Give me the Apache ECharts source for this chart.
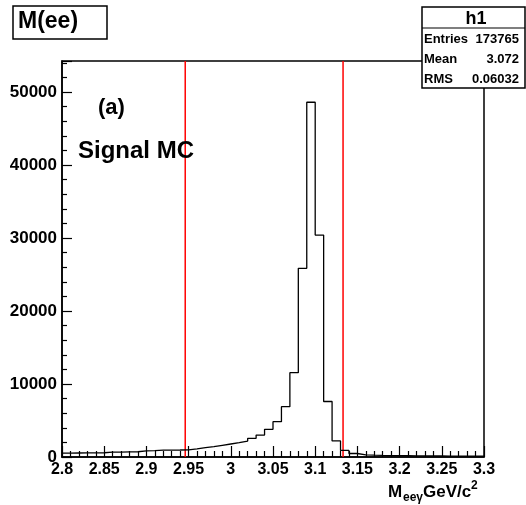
<!DOCTYPE html>
<html>
<head>
<meta charset="utf-8">
<script src="https://cdn.jsdelivr.net/npm/echarts@6/dist/echarts.min.js"></script>
<style>
html,body{margin:0;padding:0;background:#fff;}
#chart{width:526px;height:505px;}
</style>
</head>
<body>
<div id="chart"></div>
<script>
// Histogram h1: 50 bins of width 0.01 from 2.80 to 3.30 (left edges)
const binEdges = [2.80,2.81,2.82,2.83,2.84,2.85,2.86,2.87,2.88,2.89,
                  2.90,2.91,2.92,2.93,2.94,2.95,2.96,2.97,2.98,2.99,
                  3.00,3.01,3.02,3.03,3.04,3.05,3.06,3.07,3.08,3.09,
                  3.10,3.11,3.12,3.13,3.14,3.15,3.16,3.17,3.18,3.19,
                  3.20,3.21,3.22,3.23,3.24,3.25,3.26,3.27,3.28,3.29,3.30];
const counts = [540,550,560,570,580,660,680,700,720,850,
                880,930,950,960,980,1100,1280,1420,1600,1780,
                1960,2190,2560,3010,3790,4840,6890,11550,25850,48600,
                30400,7600,2200,900,480,300,250,220,200,180,
                170,160,150,140,135,130,125,120,115,110];
const cutLines = [2.946, 3.133];
const xTickLabels = ['2.8','2.85','2.9','2.95','3','3.05','3.1','3.15','3.2','3.25','3.3'];
const yTickLabels = ['0','10000','20000','30000','40000','50000'];
const statsLines = [['Entries','173765'],['Mean','3.072'],['RMS','0.06032']];
const yMax = 54250;

const histData = counts.map((v,i)=>[binEdges[i], v]);
histData.push([binEdges[binEdges.length-1], counts[counts.length-1]]);

const FONT = '"Liberation Sans", Arial, Helvetica, sans-serif';
const chart = echarts.init(document.getElementById('chart'), null, {renderer:'canvas'});

const cutSeries = cutLines.map(x => ({
  type: 'line',
  data: [[x, 0], [x, yMax]],
  symbol: 'none',
  silent: true,
  lineStyle: {color: '#ff0000', width: 1.5},
  z: 2
}));

const option = {
  animation: false,
  backgroundColor: '#fff',
  grid: {left: 62, right: 42, top: 61, bottom: 48, show: true, borderColor: '#000', borderWidth: 1.5, backgroundColor: 'transparent'},
  xAxis: {
    type: 'value', min: 2.8, max: 3.3, interval: 0.05,
    axisLine: {show: true, onZero: false, lineStyle: {color: '#000', width: 1.5}},
    axisTick: {show: true, inside: true, length: 11, lineStyle: {color: '#000', width: 1.2}},
    minorTick: {show: true, splitNumber: 5, length: 6, lineStyle: {color: '#000', width: 1.2}},
    splitLine: {show: false},
    axisLabel: {
      color: '#000', fontFamily: FONT, fontWeight: 'bold', fontSize: 16, margin: 5,
      showMinLabel: true, showMaxLabel: true,
      formatter: function (v) {
        const idx = Math.round((v - 2.8) / 0.05);
        return xTickLabels[idx] !== undefined ? xTickLabels[idx] : '';
      }
    }
  },
  yAxis: {
    type: 'value', min: 0, max: yMax, interval: 10000,
    axisLine: {show: true, lineStyle: {color: '#000', width: 1.5}},
    axisTick: {show: true, inside: true, length: 10, lineStyle: {color: '#000', width: 1.2}},
    minorTick: {show: true, splitNumber: 5, length: 5, lineStyle: {color: '#000', width: 1.2}},
    splitLine: {show: false},
    axisLabel: {
      color: '#000', fontFamily: FONT, fontWeight: 'bold', fontSize: 17, margin: 5,
      showMaxLabel: false,
      formatter: function (v) {
        const idx = Math.round(v / 10000);
        return (Math.abs(v - idx*10000) < 1 && yTickLabels[idx] !== undefined) ? yTickLabels[idx] : '';
      }
    }
  },
  series: [{
    type: 'line',
    step: 'end',
    data: histData,
    symbol: 'none',
    lineStyle: {color: '#000', width: 1.3},
    z: 3
  }].concat(cutSeries),
  graphic: [
    // title box
    {type: 'rect', z: 100, shape: {x: 13, y: 6, width: 94, height: 33},
     style: {fill: '#fff', stroke: '#000', lineWidth: 1.5}},
    {type: 'text', z: 101, left: 18, top: 10,
     style: {text: 'M(ee)', font: 'bold 23px ' + FONT, fill: '#000'}},
    // stats box
    {type: 'rect', z: 100, shape: {x: 422, y: 7, width: 103, height: 81},
     style: {fill: '#fff', stroke: '#000', lineWidth: 1.5}},
    {type: 'line', z: 101, shape: {x1: 422, y1: 28, x2: 525, y2: 28},
     style: {stroke: '#000', lineWidth: 1.2}},
    {type: 'text', z: 101, x: 476, y: 19,
     style: {text: 'h1', font: 'bold 18px ' + FONT, fill: '#000', align: 'center', verticalAlign: 'middle'}},
    ...statsLines.map((s, i) => ({type: 'text', z: 101, x: 424, y: 39 + i*20,
      style: {text: s[0], font: 'bold 13px ' + FONT, fill: '#000', align: 'left', verticalAlign: 'middle'}})),
    ...statsLines.map((s, i) => ({type: 'text', z: 101, x: 519, y: 39 + i*20,
      style: {text: s[1], font: 'bold 13px ' + FONT, fill: '#000', align: 'right', verticalAlign: 'middle'}})),
    // annotations
    {type: 'text', z: 101, x: 98, y: 108,
     style: {text: '(a)', font: 'bold 22px ' + FONT, fill: '#000', verticalAlign: 'middle'}},
    {type: 'text', z: 101, x: 78, y: 151,
     style: {text: 'Signal MC', font: 'bold 24px ' + FONT, fill: '#000', verticalAlign: 'middle'}},
    // x axis title: M_{ee#gamma} GeV/c^{2}
    {type: 'text', z: 101, x: 388, y: 492,
     style: {text: 'M', font: 'bold 17px ' + FONT, fill: '#000', align: 'left', verticalAlign: 'middle'}},
    {type: 'text', z: 101, x: 403, y: 498,
     style: {text: 'eeγ', font: 'bold 12px ' + FONT, fill: '#000', align: 'left', verticalAlign: 'middle'}},
    {type: 'text', z: 101, x: 423, y: 492,
     style: {text: 'GeV/c', font: 'bold 17px ' + FONT, fill: '#000', align: 'left', verticalAlign: 'middle'}},
    {type: 'text', z: 101, x: 471, y: 486,
     style: {text: '2', font: 'bold 12px ' + FONT, fill: '#000', align: 'left', verticalAlign: 'middle'}}
  ]
};
chart.setOption(option);
</script>
</body>
</html>
